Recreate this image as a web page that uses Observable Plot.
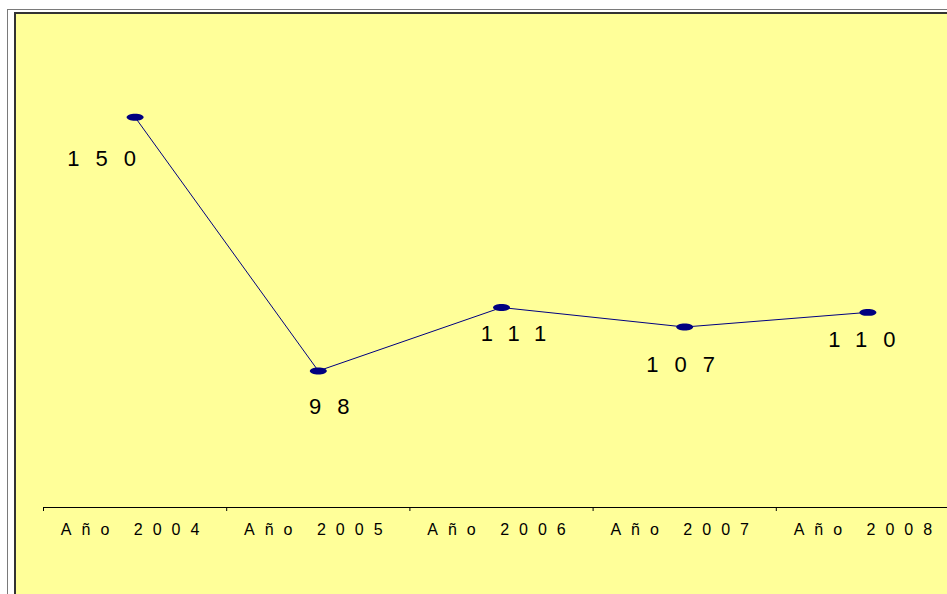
<!DOCTYPE html>
<html>
<head>
<meta charset="utf-8">
<script src="https://cdn.jsdelivr.net/npm/d3@7"></script>
<script src="https://cdn.jsdelivr.net/npm/@observablehq/plot@0.6"></script>
<style>
  html, body { margin: 0; padding: 0; overflow: hidden; background: #fff; width: 947px; height: 594px; }
  #outer { position: absolute; left: 7px; top: 9px; width: 1200px; height: 1200px; border: 1px solid #7a7a7a; }
  #inner { position: absolute; left: 14px; top: 12px; width: 1200px; height: 1200px; border-left: 2px solid #333; border-top: 2px solid #333; background: #FFFF99; }
  #chart { position: absolute; left: 0; top: 0; }
</style>
</head>
<body>
<div id="outer"></div>
<div id="inner"></div>
<div id="chart"></div>
<script>
// Data
const years = ["Año 2004", "Año 2005", "Año 2006", "Año 2007", "Año 2008"];
const values = [150, 98, 111, 107, 110];
// label offsets (pixels, relative to each point)
const labelDx = [-33.5, 11, 12, -4, -6];
const labelDy = [49, 43, 33, 45, 35];

const data = years.map((y, i) => ({year: y, idx: i + 0.5, value: values[i], dx: labelDx[i], dy: labelDy[i]}));

const ellipse = {
  draw(ctx, size) {
    const r = Math.sqrt(size / Math.PI);
    const rx = r, ry = r * 0.41, k = 0.5523;
    ctx.moveTo(rx, 0);
    ctx.bezierCurveTo(rx, ry * k, rx * k, ry, 0, ry);
    ctx.bezierCurveTo(-rx * k, ry, -rx, ry * k, -rx, 0);
    ctx.bezierCurveTo(-rx, -ry * k, -rx * k, -ry, 0, -ry);
    ctx.bezierCurveTo(rx * k, -ry, rx, -ry * k, rx, 0);
    ctx.closePath();
  }
};

const yMin = 70, yMax = 160;
const valSpacing = 16, yearSpacing = 10;
const valSize = 22, yearSize = 16;

const marks = [
  Plot.ruleY([yMin], {stroke: "#000", strokeWidth: 1}),
  Plot.axisX({ticks: d3.range(years.length + 1), tickSize: 4, tickFormat: () => "", stroke: "#000", strokeOpacity: 1}),
  Plot.text(data, {x: "idx", text: "year", frameAnchor: "bottom", dy: 27, lineAnchor: "bottom", fontSize: yearSize, fill: "#000"}),
  Plot.line(data, {x: "idx", y: "value", stroke: "#000080", strokeWidth: 1}),
  Plot.dot(data, {x: "idx", y: "value", symbol: ellipse, r: 8.5, fill: "#000080", stroke: "none"})
];
data.forEach(d => {
  marks.push(Plot.text([d], {x: "idx", y: "value", text: e => String(e.value), dx: d.dx + valSpacing / 2, dy: d.dy, lineAnchor: "bottom", fontSize: valSize, fill: "#000"}));
});

const chart = Plot.plot({
  width: 1000,
  height: 594,
  marginLeft: 43,
  marginRight: 41,
  marginTop: 68,
  marginBottom: 87,
  x: {type: "linear", domain: [0, years.length], axis: null},
  y: {domain: [yMin, yMax], axis: null},
  style: {background: "transparent", maxWidth: "none", fontFamily: "'Liberation Sans', Arial, sans-serif", overflow: "visible"},
  marks
});
chart.querySelectorAll(`g[font-size="${valSize}"] text`).forEach(t => t.style.letterSpacing = valSpacing + "px");
chart.querySelectorAll(`g[font-size="${yearSize}"] text`).forEach(t => t.style.letterSpacing = yearSpacing + "px");
document.getElementById("chart").appendChild(chart);
</script>
</body>
</html>
